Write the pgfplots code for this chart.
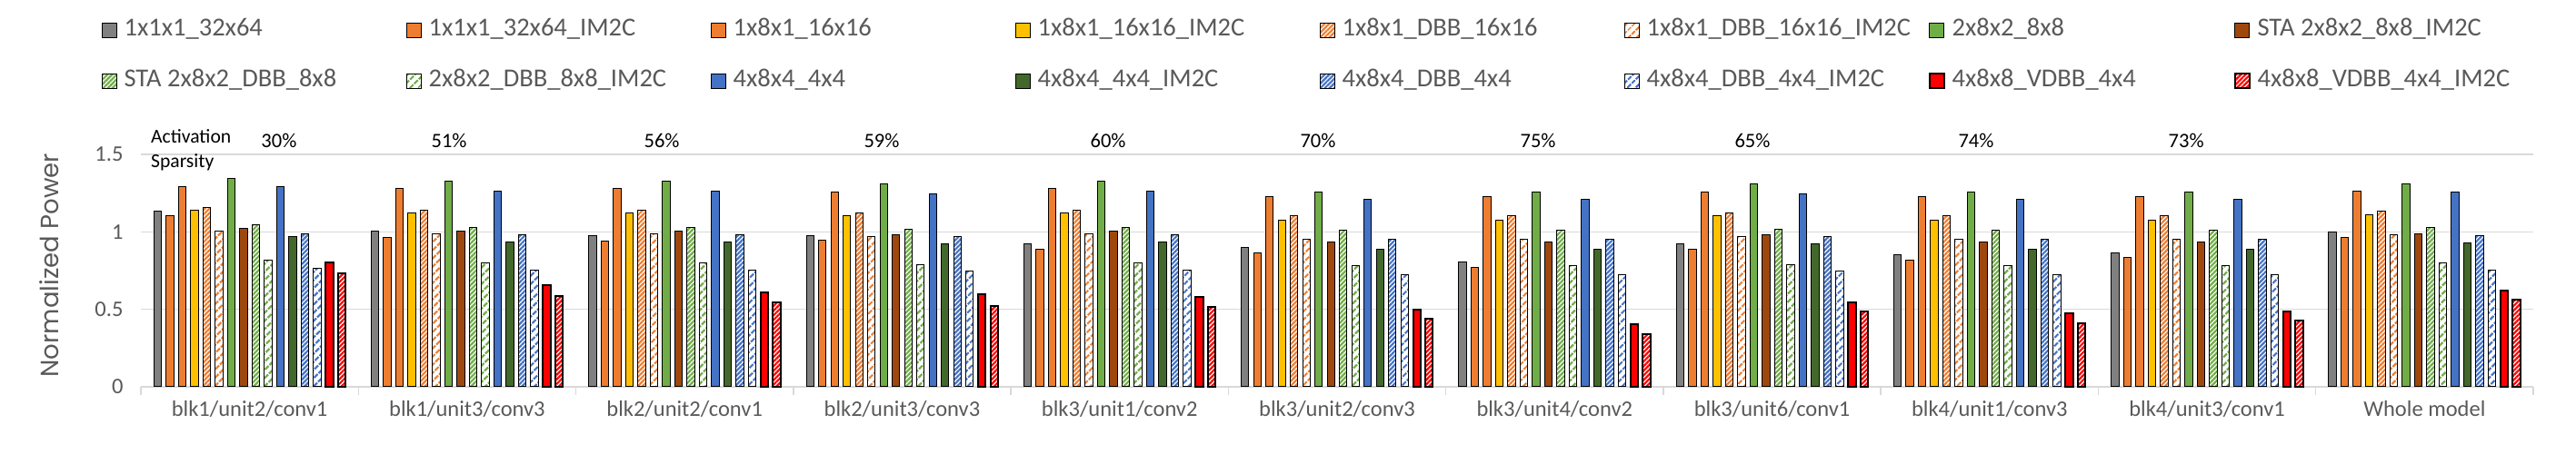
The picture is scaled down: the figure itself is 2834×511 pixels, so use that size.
\documentclass[border=0pt]{standalone}
\usepackage{fontspec}
\setmainfont{Carlito}
\newfontfamily\ylfont{Poppins}
\usepackage{pgfplots}
\pgfplotsset{compat=1.18}
\usepackage{pgfplotstable}
\usetikzlibrary{patterns.meta}
\definecolor{cgray}{HTML}{808080}
\definecolor{corange}{HTML}{ED7D31}
\definecolor{cgold}{HTML}{FFC000}
\definecolor{cgreen}{HTML}{70AD47}
\definecolor{cbrown}{HTML}{9E480E}
\definecolor{cblue}{HTML}{4472C4}
\definecolor{cdkgreen}{HTML}{43682B}
\definecolor{cred}{HTML}{FF0000}
\definecolor{gridgray}{HTML}{D9D9D9}
\definecolor{txtgray}{HTML}{595959}
\newcommand\lw[1]{\makebox[310pt][l]{#1}}

\pgfplotstableread{
g c1 c2 c3 c4 c5 c6 c7 c8 c9 c10 c11 c12 c13 c14 c15 c16
0 1.133 1.105 1.293 1.140 1.156 1.004 1.344 1.023 1.047 0.818 1.293 0.971 0.988 0.766 0.805 0.734
1 1.004 0.965 1.281 1.123 1.140 0.988 1.328 1.006 1.029 0.800 1.264 0.936 0.982 0.754 0.654 0.588
2 0.977 0.941 1.281 1.121 1.141 0.988 1.328 1.006 1.029 0.801 1.264 0.936 0.982 0.754 0.611 0.547
3 0.977 0.947 1.258 1.105 1.123 0.971 1.311 0.982 1.018 0.789 1.246 0.924 0.971 0.748 0.596 0.523
4 0.924 0.889 1.281 1.121 1.141 0.988 1.328 1.006 1.029 0.801 1.264 0.936 0.982 0.754 0.582 0.518
5 0.900 0.865 1.229 1.076 1.105 0.953 1.258 0.936 1.012 0.783 1.211 0.889 0.953 0.725 0.500 0.438
6 0.807 0.771 1.229 1.076 1.105 0.953 1.258 0.936 1.012 0.783 1.211 0.889 0.953 0.725 0.406 0.342
7 0.924 0.889 1.258 1.105 1.123 0.971 1.311 0.982 1.018 0.789 1.246 0.924 0.971 0.748 0.547 0.484
8 0.854 0.818 1.229 1.076 1.105 0.953 1.258 0.936 1.012 0.783 1.211 0.889 0.953 0.725 0.477 0.412
9 0.865 0.836 1.229 1.076 1.105 0.953 1.258 0.936 1.012 0.783 1.211 0.889 0.953 0.725 0.488 0.426
10 1.000 0.965 1.264 1.111 1.135 0.982 1.311 0.988 1.029 0.801 1.258 0.930 0.977 0.754 0.623 0.561
}\data

\pgfplotsset{
  legimg/.style={legend image code/.code={\draw[##1] (0pt,-8pt) rectangle (16pt,8pt);}},
  bb/.style={draw=black, line width=1pt, legimg},
  solid/.style={bb, fill=#1},
  dense/.style={bb, fill=white, postaction={pattern={Lines[angle=45,distance=3.6pt,line width=2.2pt]}, pattern color=#1, draw=black}},
  sparse/.style={bb, fill=white, postaction={pattern={Lines[angle=45,distance=6.4pt,line width=2.5pt]}, pattern color=#1, draw=black}},
}

\begin{document}
\begin{tikzpicture}
\path[use as bounding box] (0,0) rectangle (2834pt,511pt);
\begin{axis}[
  at={(155pt,85pt)}, anchor=south west,
  width=2632pt, height=256pt, scale only axis,
  xmin=-0.5, xmax=10.5, ymin=0, ymax=1.5,
  ybar=5.1pt, bar width=8.4pt,
  clip=false,
  axis x line*=bottom, axis y line*=left,
  x axis line style={-, draw=gridgray, line width=1.5pt},
  y axis line style={draw=none},
  ymajorgrids=true,
  grid style={draw=gridgray, line width=1.5pt},
  ytick={0,0.5,1,1.5},
  yticklabels={0,0.5,1,1.5},
  xtick={0,...,10},
  xticklabels={blk1/unit2/conv1, blk1/unit3/conv3, blk2/unit2/conv1, blk2/unit3/conv3, blk3/unit1/conv2, blk3/unit2/conv3, blk3/unit4/conv2, blk3/unit6/conv1, blk4/unit1/conv3, blk4/unit3/conv1, Whole model},
  minor xtick={-0.5,0.5,...,10.5},
  major tick length=0pt,
  minor tick length=9pt,
  tick align=outside,
  minor tick style={draw=gridgray, line width=1.5pt},
  ytick style={draw=none},
  tick label style={font=\fontsize{24.5}{29}\selectfont, text=txtgray},
  /pgf/number format/assume math mode=true,
  xticklabel style={yshift=-12pt},
  yticklabel style={xshift=-16pt},
  ylabel={Normalized Power},
  ylabel style={at={(axis description cs:-0.0384,0.523)}, anchor=center, font=\ylfont\fontsize{27.5}{33}\selectfont, text=txtgray},
  legend columns=8,
  legend style={at={(axis description cs:-0.0165,1.5898)}, anchor=north west,
    draw=none, fill=none, inner sep=0pt, outer sep=0pt,
    font=\fontsize{28.5}{34}\selectfont, text=txtgray,
    column sep=0pt, row sep=28pt,
    /tikz/every odd column/.append style={column sep=8pt},
    nodes={text height=20pt, text depth=8pt, inner sep=0pt}},
]
\addplot[solid=cgray] table[x=g,y=c1] {\data};
\addplot[solid=corange] table[x=g,y=c2] {\data};
\addplot[solid=corange] table[x=g,y=c3] {\data};
\addplot[solid=cgold] table[x=g,y=c4] {\data};
\addplot[dense=corange] table[x=g,y=c5] {\data};
\addplot[sparse=corange] table[x=g,y=c6] {\data};
\addplot[solid=cgreen] table[x=g,y=c7] {\data};
\addplot[solid=cbrown] table[x=g,y=c8] {\data};
\addplot[dense=cgreen] table[x=g,y=c9] {\data};
\addplot[sparse=cgreen] table[x=g,y=c10] {\data};
\addplot[solid=cblue] table[x=g,y=c11] {\data};
\addplot[solid=cdkgreen] table[x=g,y=c12] {\data};
\addplot[dense=cblue] table[x=g,y=c13] {\data};
\addplot[sparse=cblue] table[x=g,y=c14] {\data};
\addplot[solid=cred, line width=2pt] table[x=g,y=c15] {\data};
\addplot[dense=cred, line width=2pt] table[x=g,y=c16] {\data};
\legend{\lw{1x1x1\_32x64}, \lw{1x1x1\_32x64\_IM2C}, \lw{1x8x1\_16x16}, \lw{1x8x1\_16x16\_IM2C}, \lw{1x8x1\_DBB\_16x16}, \lw{1x8x1\_DBB\_16x16\_IM2C}, \lw{2x8x2\_8x8}, \lw{STA 2x8x2\_8x8\_IM2C}, \lw{STA 2x8x2\_DBB\_8x8}, \lw{2x8x2\_DBB\_8x8\_IM2C}, \lw{4x8x4\_4x4}, \lw{4x8x4\_4x4\_IM2C}, \lw{4x8x4\_DBB\_4x4}, \lw{4x8x4\_DBB\_4x4\_IM2C}, \lw{4x8x8\_VDBB\_4x4}, \lw{4x8x8\_VDBB\_4x4\_IM2C}}
\node[anchor=base west, inner sep=0pt, font=\fontsize{21.6}{26}\selectfont] at (axis cs:-0.454,1.572) {Activation};
\node[anchor=base west, inner sep=0pt, font=\fontsize{21.6}{26}\selectfont] at (axis cs:-0.454,1.416) {Sparsity};
\begin{scope}[every node/.style={anchor=base, inner sep=0pt, font=\fontsize{22.5}{27}\selectfont}]
\node at (axis cs:0.135,1.543) {30\%};
\node at (axis cs:0.917,1.543) {51\%};
\node at (axis cs:1.895,1.543) {56\%};
\node at (axis cs:2.906,1.543) {59\%};
\node at (axis cs:3.947,1.543) {60\%};
\node at (axis cs:4.912,1.543) {70\%};
\node at (axis cs:5.924,1.543) {75\%};
\node at (axis cs:6.910,1.543) {65\%};
\node at (axis cs:7.938,1.543) {74\%};
\node at (axis cs:8.904,1.543) {73\%};
\end{scope}
\end{axis}
\end{tikzpicture}
\end{document}
